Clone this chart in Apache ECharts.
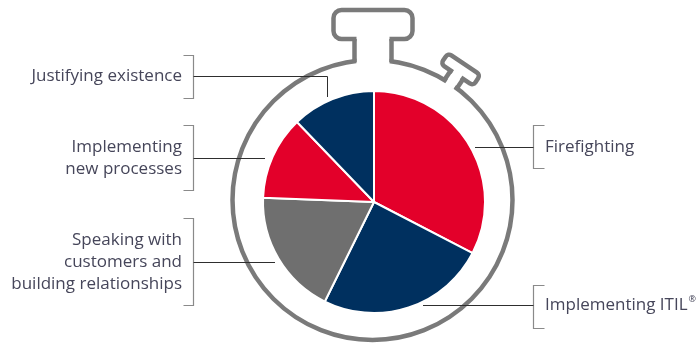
<!DOCTYPE html>
<html>
<head>
<meta charset="utf-8">
<script src="https://cdn.jsdelivr.net/npm/echarts@6/dist/echarts.min.js"></script>
<style>
html,body{margin:0;padding:0;background:#fff;}
#chart{width:699px;height:345px;}
</style>
</head>
<body>
<div id="chart"></div>
<script>
// Data (clockwise from 12 o'clock)
const categories = ['Firefighting', 'Implementing ITIL®', 'Speaking with customers and building relationships', 'Implementing new processes', 'Justifying existence'];
const values = [32.6, 24.7, 18.3, 12.2, 12.2];
const labelLines = [
  ['Firefighting'],
  ['Implementing ITIL®'],
  ['Speaking with', 'customers and', 'building relationships'],
  ['Implementing', 'new processes'],
  ['Justifying existence']
];

const colors = ['#E3002A', '#00305F', '#6F6F6F', '#E3002A', '#00305F'];
const ringColor = '#7A7A7A';
const textColor = '#46465a';
const font = '"Open Sans", "Noto Sans", sans-serif';

// label placement (layout only)
const labelPos = [
  {side: 'right', ty: 147.5, b0: 125.5, b1: 168.5, lineFrom: [475, 147.5]},
  {side: 'right', ty: 305.5, b0: 285.5, b1: 328.5, lineFrom: [423, 305.5]},
  {side: 'left',  ty: 262.5, b0: 218.5, b1: 305.5, lineFrom: [275, 262.5]},
  {side: 'left',  ty: 158.5, b0: 125.5, b1: 190.5, lineFrom: [265, 158.5]},
  {side: 'left',  ty: 76.5,  b0: 55.5,  b1: 98.5,  lineFrom: [327.5, 97], elbow: true}
];

const chart = echarts.init(document.getElementById('chart'), null, {renderer: 'canvas'});

const graphics = [];
// stopwatch ring
const cx = 372.5, cy = 200, R = 140;
graphics.push({type: 'circle', z: 1, shape: {cx: cx, cy: cy, r: R}, style: {fill: 'none', stroke: ringColor, lineWidth: 4.5}});
// crown
graphics.push({type: 'rect', z: 2, shape: {x: 333.5, y: 10, width: 79, height: 29, r: 8}, style: {fill: '#fff', stroke: ringColor, lineWidth: 4.5}});
graphics.push({type: 'rect', z: 3, shape: {x: 356.5, y: 35, width: 33, height: 30}, style: {fill: '#fff'}});
graphics.push({type: 'line', z: 3, shape: {x1: 354.5, y1: 39, x2: 354.5, y2: 62}, style: {stroke: ringColor, lineWidth: 4.5}});
graphics.push({type: 'line', z: 3, shape: {x1: 391.5, y1: 39, x2: 391.5, y2: 62}, style: {stroke: ringColor, lineWidth: 4.5}});
// side button
const ang = 34 * Math.PI / 180;
graphics.push({
  type: 'group', z: 2,
  x: cx + R * Math.sin(ang), y: cy - R * Math.cos(ang),
  rotation: -ang,
  children: [
    {type: 'rect', z: 2, shape: {x: -19.5, y: -24, width: 39, height: 13, r: 4}, style: {fill: '#fff', stroke: ringColor, lineWidth: 4.5}},
    {type: 'rect', z: 3, shape: {x: -5, y: -14, width: 10, height: 17}, style: {fill: '#fff'}},
    {type: 'line', z: 3, shape: {x1: -7.5, y1: -11, x2: -7.5, y2: 1}, style: {stroke: ringColor, lineWidth: 4.5}},
    {type: 'line', z: 3, shape: {x1: 7.5, y1: -11, x2: 7.5, y2: 1}, style: {stroke: ringColor, lineWidth: 4.5}}
  ]
});

// labels, brackets, leader lines
const leftBx = 193.5, rightBx = 533.5;
labelPos.forEach(function (p, i) {
  const lines = labelLines[i];
  const txt = lines.map(function (l) {
    return l.indexOf('®') >= 0 ? '{a|' + l.replace('®', '') + '}{s|®}' : '{a|' + l + '}';
  }).join('\n');
  const isLeft = p.side === 'left';
  const bx = isLeft ? leftBx : rightBx;
  const tick = isLeft ? -10 : 11;
  graphics.push({
    type: 'text', z: 10,
    x: isLeft ? 182 : 545, y: p.ty,
    style: {
      text: txt, align: isLeft ? 'right' : 'left', verticalAlign: 'middle',
      fill: textColor, fontFamily: font, fontSize: 17, lineHeight: 22,
      rich: {
        a: {fontFamily: font, fontSize: 17, fill: textColor, lineHeight: 22},
        s: {fontFamily: font, fontSize: 9, fill: textColor, verticalAlign: 'top', lineHeight: 22, padding: [0, 0, 6, 1]}
      }
    }
  });
  graphics.push({
    type: 'polyline', z: 10,
    shape: {points: [[bx + tick, p.b0], [bx, p.b0], [bx, p.b1], [bx + tick, p.b1]]},
    style: {fill: 'none', stroke: '#8a8a8a', lineWidth: 1.2}
  });
  let pts;
  if (p.elbow) {
    pts = [[bx, p.ty], [p.lineFrom[0], p.ty], p.lineFrom];
  } else {
    pts = [[bx, p.ty], p.lineFrom];
  }
  graphics.push({
    type: 'polyline', z: 10,
    shape: {points: pts},
    style: {fill: 'none', stroke: '#2e2e2e', lineWidth: 1}
  });
});

chart.setOption({
  animation: false,
  backgroundColor: '#fff',
  graphic: {elements: graphics},
  series: [{
    type: 'pie',
    z: 5,
    center: [374, 202],
    radius: 111,
    startAngle: 90,
    clockwise: true,
    silent: true,
    label: {show: false},
    labelLine: {show: false},
    itemStyle: {borderColor: '#fff', borderWidth: 2},
    data: categories.map(function (c, i) {
      return {name: c, value: values[i], itemStyle: {color: colors[i]}};
    })
  }]
});
</script>
</body>
</html>
